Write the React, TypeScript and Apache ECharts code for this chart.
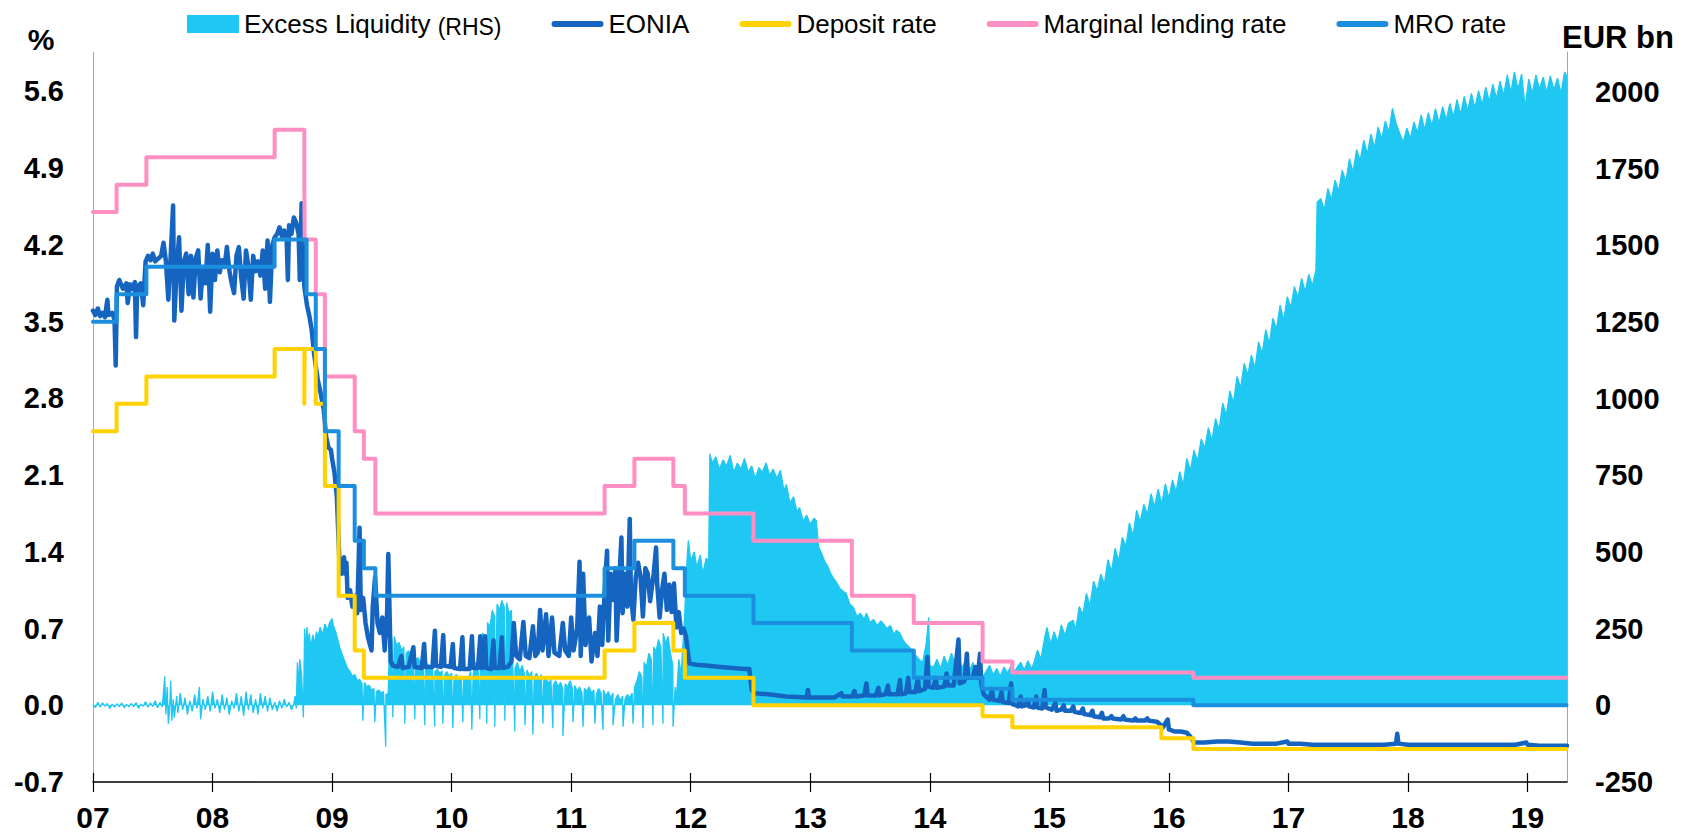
import React, { useEffect, useRef } from 'react';
import * as echarts from 'echarts';

const FONT = "'Liberation Sans', Arial, Helvetica, sans-serif";

// ---------- tick labels ----------
const yearTicks = [2007, 2008, 2009, 2010, 2011, 2012, 2013, 2014, 2015, 2016, 2017, 2018, 2019];
const X_MIN = 2007;
const X_MAX = 2019.33;

// ---------- policy rates (effective dates, %) ----------
const mroDates = ['2007-01-01', '2007-03-14', '2007-06-13', '2008-07-09', '2008-10-15', '2008-11-12', '2008-12-10', '2009-01-21', '2009-03-11', '2009-04-08', '2009-05-13', '2011-04-13', '2011-07-13', '2011-11-09', '2011-12-14', '2012-07-11', '2013-05-08', '2013-11-13', '2014-06-11', '2014-09-10', '2016-03-16', '2019-04-30'];
const mroRates = [3.5, 3.75, 4.0, 4.25, 3.75, 3.25, 2.5, 2.0, 1.5, 1.25, 1.0, 1.25, 1.5, 1.25, 1.0, 0.75, 0.5, 0.25, 0.15, 0.05, 0.0, 0.0];

const depositDates = ['2007-01-01', '2007-03-14', '2007-06-13', '2008-07-09', '2008-10-08', '2008-10-09', '2008-11-12', '2008-12-10', '2009-01-21', '2009-03-11', '2009-04-08', '2011-04-13', '2011-07-13', '2011-11-09', '2011-12-14', '2012-07-11', '2014-06-11', '2014-09-10', '2015-12-09', '2016-03-16', '2019-04-30'];
const depositRates = [2.5, 2.75, 3.0, 3.25, 2.75, 3.25, 2.75, 2.0, 1.0, 0.5, 0.25, 0.5, 0.75, 0.5, 0.25, 0.0, -0.1, -0.2, -0.3, -0.4, -0.4];

const mlfDates = ['2007-01-01', '2007-03-14', '2007-06-13', '2008-07-09', '2008-10-08', '2008-10-09', '2008-11-12', '2008-12-10', '2009-03-11', '2009-04-08', '2009-05-13', '2011-04-13', '2011-07-13', '2011-11-09', '2011-12-14', '2012-07-11', '2013-05-08', '2013-11-13', '2014-06-11', '2014-09-10', '2016-03-16', '2019-04-30'];
const mlfRates = [4.5, 4.75, 5.0, 5.25, 4.75, 4.25, 3.75, 3.0, 2.5, 2.25, 1.75, 2.0, 2.25, 2.0, 1.75, 1.5, 1.0, 0.75, 0.4, 0.3, 0.25, 0.25];

// ---------- EONIA (decimal year, %) ----------
const eonia: [number, number][] = [
  [2007.00, 3.60], [2007.02, 3.56], [2007.04, 3.62], [2007.06, 3.55], [2007.08, 3.58], [2007.10, 3.54], [2007.12, 3.70], [2007.13, 3.56], [2007.16, 3.58], [2007.18, 3.52], [2007.19, 3.10], [2007.20, 3.82], [2007.22, 3.88], [2007.25, 3.80], [2007.28, 3.85], [2007.29, 3.67], [2007.31, 3.84], [2007.33, 3.80], [2007.35, 3.86], [2007.36, 3.36], [2007.37, 3.82], [2007.40, 3.85], [2007.42, 3.65], [2007.44, 4.05], [2007.46, 4.10], [2007.48, 4.06], [2007.50, 4.12], [2007.52, 4.05], [2007.55, 4.08], [2007.57, 4.10], [2007.59, 4.22], [2007.61, 4.05], [2007.63, 3.70], [2007.65, 4.10], [2007.67, 4.56], [2007.68, 3.51], [2007.70, 4.00], [2007.72, 4.27], [2007.74, 3.60], [2007.76, 4.05], [2007.78, 4.12], [2007.80, 3.75], [2007.82, 4.10], [2007.84, 3.72], [2007.86, 4.08], [2007.88, 4.15], [2007.90, 3.71], [2007.92, 4.00], [2007.94, 3.85], [2007.96, 4.20], [2007.98, 3.59],
  [2008.00, 4.12], [2008.02, 3.88], [2008.04, 4.15], [2008.06, 3.95], [2008.08, 4.06], [2008.10, 4.00], [2008.12, 4.18], [2008.14, 3.97], [2008.16, 3.85], [2008.18, 3.76], [2008.20, 4.10], [2008.22, 4.18], [2008.24, 3.90], [2008.26, 3.71], [2008.28, 4.15], [2008.30, 4.00], [2008.32, 3.70], [2008.34, 4.10], [2008.36, 3.96], [2008.38, 4.05], [2008.40, 3.92], [2008.42, 4.15], [2008.44, 3.80], [2008.46, 4.24], [2008.48, 3.68], [2008.50, 4.20], [2008.52, 4.27], [2008.54, 4.30], [2008.56, 4.36], [2008.58, 4.28], [2008.60, 4.33], [2008.62, 4.25], [2008.63, 3.88], [2008.64, 4.38], [2008.66, 4.30], [2008.68, 4.45], [2008.70, 4.40], [2008.72, 4.30], [2008.73, 3.88], [2008.745, 4.58], [2008.76, 3.95], [2008.77, 3.80], [2008.79, 3.65], [2008.81, 3.55], [2008.83, 3.42], [2008.85, 3.20], [2008.88, 2.97], [2008.90, 2.87], [2008.93, 2.70], [2008.95, 2.45], [2008.97, 2.35], [2008.99, 2.33],
  [2009.00, 2.25], [2009.02, 2.12], [2009.04, 1.90], [2009.06, 1.35], [2009.08, 1.20], [2009.09, 1.26], [2009.10, 1.35], [2009.11, 1.20], [2009.12, 1.30], [2009.13, 0.98], [2009.15, 1.05], [2009.17, 0.90], [2009.19, 1.00], [2009.21, 0.84], [2009.23, 1.62], [2009.24, 0.87], [2009.26, 0.98], [2009.28, 0.75], [2009.30, 0.62], [2009.33, 0.50], [2009.34, 0.90], [2009.36, 1.17], [2009.38, 0.75], [2009.40, 0.66], [2009.42, 0.80], [2009.44, 0.50], [2009.46, 0.84], [2009.47, 1.38], [2009.49, 0.40], [2009.51, 0.36],
  [2009.55, 0.35], [2009.58, 0.45], [2009.59, 0.34], [2009.64, 0.35], [2009.68, 0.53], [2009.69, 0.35], [2009.75, 0.34], [2009.77, 0.56], [2009.78, 0.35], [2009.84, 0.35], [2009.86, 0.68], [2009.87, 0.36], [2009.91, 0.35], [2009.93, 0.64], [2009.94, 0.36], [2009.99, 0.35],
  [2010.01, 0.56], [2010.02, 0.34], [2010.07, 0.33], [2010.09, 0.62], [2010.10, 0.33], [2010.15, 0.33], [2010.17, 0.63], [2010.18, 0.34], [2010.22, 0.34], [2010.24, 0.63], [2010.25, 0.34], [2010.27, 0.35], [2010.28, 0.63], [2010.29, 0.34], [2010.33, 0.33], [2010.35, 0.59], [2010.36, 0.34], [2010.40, 0.34], [2010.42, 0.62], [2010.43, 0.34], [2010.47, 0.35], [2010.50, 0.40], [2010.52, 0.75], [2010.54, 0.45], [2010.57, 0.42], [2010.60, 0.76], [2010.62, 0.45], [2010.65, 0.43], [2010.68, 0.72], [2010.70, 0.45], [2010.72, 0.48], [2010.74, 0.87], [2010.76, 0.50], [2010.79, 0.83], [2010.81, 0.45], [2010.84, 0.80], [2010.86, 0.48], [2010.90, 0.45], [2010.93, 0.75], [2010.95, 0.50], [2010.98, 0.45],
  [2011.00, 0.80], [2011.02, 0.50], [2011.05, 0.70], [2011.07, 1.31], [2011.08, 0.45], [2011.10, 1.20], [2011.12, 0.55], [2011.15, 0.80], [2011.17, 0.40], [2011.20, 0.66], [2011.22, 0.45], [2011.24, 0.90], [2011.26, 0.55], [2011.28, 1.05], [2011.30, 1.41], [2011.31, 0.59], [2011.33, 1.20], [2011.35, 0.96], [2011.37, 1.25], [2011.38, 0.59], [2011.40, 1.08], [2011.42, 1.53], [2011.43, 0.84], [2011.45, 1.20], [2011.47, 0.90], [2011.49, 1.70], [2011.50, 1.00], [2011.52, 0.78], [2011.54, 1.17], [2011.56, 1.30], [2011.58, 1.17], [2011.60, 0.81], [2011.62, 1.25], [2011.64, 1.20], [2011.66, 0.95], [2011.69, 1.20], [2011.71, 1.44], [2011.72, 1.10], [2011.74, 0.80], [2011.76, 1.05], [2011.78, 1.20], [2011.80, 0.87], [2011.82, 1.10], [2011.84, 0.85], [2011.86, 1.11], [2011.88, 0.71], [2011.90, 0.85], [2011.92, 0.66], [2011.94, 0.70], [2011.96, 0.63], [2011.98, 0.45], [2011.99, 0.38],
  [2012.05, 0.37], [2012.15, 0.36], [2012.25, 0.35], [2012.35, 0.34], [2012.45, 0.33], [2012.49, 0.33], [2012.51, 0.14], [2012.53, 0.11], [2012.65, 0.10], [2012.80, 0.08], [2012.97, 0.07], [2012.98, 0.14], [2012.99, 0.07],
  [2013.10, 0.07], [2013.20, 0.07], [2013.26, 0.11], [2013.27, 0.08], [2013.35, 0.08], [2013.37, 0.13], [2013.38, 0.08], [2013.45, 0.09], [2013.47, 0.20], [2013.48, 0.09], [2013.55, 0.09], [2013.57, 0.16], [2013.58, 0.09], [2013.63, 0.10], [2013.65, 0.18], [2013.66, 0.10], [2013.73, 0.10], [2013.75, 0.23], [2013.76, 0.10], [2013.80, 0.11], [2013.82, 0.25], [2013.83, 0.12], [2013.88, 0.12], [2013.90, 0.25], [2013.91, 0.13], [2013.96, 0.15], [2013.98, 0.44], [2013.99, 0.17],
  [2014.03, 0.16], [2014.05, 0.25], [2014.06, 0.16], [2014.12, 0.17], [2014.14, 0.29], [2014.15, 0.18], [2014.20, 0.18], [2014.24, 0.60], [2014.25, 0.20], [2014.29, 0.22], [2014.31, 0.47], [2014.32, 0.25], [2014.36, 0.25], [2014.38, 0.35], [2014.40, 0.25], [2014.42, 0.47], [2014.43, 0.20], [2014.45, 0.10], [2014.47, 0.08], [2014.50, 0.05], [2014.52, 0.15], [2014.53, 0.05], [2014.58, 0.04], [2014.60, 0.12], [2014.61, 0.03], [2014.66, 0.02], [2014.68, 0.20], [2014.69, 0.01], [2014.72, 0.00], [2014.74, -0.01], [2014.76, 0.08], [2014.77, -0.01], [2014.80, 0.00], [2014.82, 0.05], [2014.83, -0.01], [2014.87, -0.02], [2014.89, 0.08], [2014.90, -0.02], [2014.94, -0.03], [2014.96, 0.14], [2014.97, -0.02],
  [2015.02, -0.04], [2015.05, 0.02], [2015.06, -0.05], [2015.10, -0.04], [2015.12, 0.00], [2015.13, -0.05], [2015.18, -0.05], [2015.20, -0.01], [2015.21, -0.06], [2015.26, -0.07], [2015.28, -0.03], [2015.29, -0.08], [2015.34, -0.09], [2015.36, -0.05], [2015.37, -0.10], [2015.42, -0.11], [2015.44, -0.07], [2015.45, -0.12], [2015.50, -0.12], [2015.52, -0.10], [2015.53, -0.12], [2015.60, -0.13], [2015.62, -0.10], [2015.63, -0.13], [2015.70, -0.14], [2015.72, -0.12], [2015.73, -0.14], [2015.80, -0.14], [2015.82, -0.12], [2015.83, -0.14], [2015.90, -0.15], [2015.93, -0.18], [2015.95, -0.20], [2015.99, -0.13],
  [2016.00, -0.22], [2016.05, -0.24], [2016.10, -0.24], [2016.15, -0.25], [2016.19, -0.30], [2016.21, -0.34], [2016.30, -0.34], [2016.40, -0.33], [2016.50, -0.33], [2016.60, -0.34], [2016.70, -0.35], [2016.80, -0.35], [2016.90, -0.35], [2016.99, -0.33],
  [2017.00, -0.35], [2017.10, -0.35], [2017.20, -0.36], [2017.30, -0.36], [2017.40, -0.36], [2017.50, -0.36], [2017.60, -0.36], [2017.70, -0.36], [2017.80, -0.36], [2017.90, -0.35], [2017.91, -0.26], [2017.92, -0.35],
  [2018.00, -0.36], [2018.10, -0.36], [2018.20, -0.36], [2018.30, -0.36], [2018.40, -0.36], [2018.50, -0.36], [2018.60, -0.36], [2018.70, -0.36], [2018.80, -0.36], [2018.90, -0.36], [2018.99, -0.34],
  [2019.00, -0.36], [2019.10, -0.37], [2019.20, -0.37], [2019.33, -0.37],
];

// ---------- Excess liquidity (decimal year, EUR bn) ----------
const excessBase: [number, number][] = [
  [2007.00, 5], [2007.02, -8], [2007.04, 10], [2007.06, -5], [2007.08, 8], [2007.10, -3], [2007.12, 6], [2007.14, -10], [2007.16, 4], [2007.18, -6], [2007.20, 5], [2007.22, -4], [2007.24, 8], [2007.26, -8], [2007.28, 3], [2007.30, -5], [2007.32, 6], [2007.34, -4], [2007.36, 9], [2007.38, -10], [2007.40, 4], [2007.42, -3], [2007.44, 12], [2007.46, -6], [2007.48, 8], [2007.50, -4], [2007.52, 15], [2007.54, -8], [2007.56, 10], [2007.58, -5],
  [2007.60, 95], [2007.61, -30], [2007.62, 60], [2007.63, -60], [2007.64, -20], [2007.65, 80], [2007.66, -50], [2007.67, 20], [2007.68, -40], [2007.70, 30], [2007.71, -25], [2007.73, 40], [2007.75, -15], [2007.77, 25], [2007.79, -30], [2007.81, 15], [2007.83, -20], [2007.85, 35], [2007.87, -10], [2007.89, 60], [2007.90, -45], [2007.92, 20], [2007.94, -15], [2007.96, 30], [2007.98, -20],
  [2008.00, 45], [2008.02, -10], [2008.04, 20], [2008.06, -25], [2008.08, 35], [2008.10, -15], [2008.12, 25], [2008.14, -30], [2008.16, 15], [2008.18, -10], [2008.20, 40], [2008.22, -20], [2008.24, 30], [2008.26, -35], [2008.28, 45], [2008.30, -15], [2008.32, 35], [2008.34, -25], [2008.36, 20], [2008.38, -30], [2008.40, 40], [2008.42, -10], [2008.44, 30], [2008.46, -20], [2008.48, 25], [2008.50, -15], [2008.52, 10], [2008.54, -20], [2008.56, 15], [2008.58, -10], [2008.60, 20], [2008.62, -5], [2008.64, 10], [2008.66, -15], [2008.68, 5], [2008.69, 30], [2008.70, -10], [2008.71, 140], [2008.72, 60], [2008.73, 150], [2008.745, 100], [2008.76, -40],
  [2008.77, 250], [2008.78, 180], [2008.79, 255], [2008.80, 200], [2008.81, 235], [2008.82, 190], [2008.84, 230], [2008.85, 200], [2008.87, 240], [2008.88, 220], [2008.90, 255], [2008.92, 230], [2008.94, 265], [2008.96, 245], [2008.98, 270],
  [2009.00, 283], [2009.01, 260], [2009.03, 240], [2009.05, 210], [2009.07, 180], [2009.09, 160], [2009.11, 140], [2009.13, 120], [2009.15, 110], [2009.17, 95], [2009.19, 100], [2009.21, 80], [2009.23, 85], [2009.25, 70], [2009.27, 75], [2009.29, 60], [2009.31, 65], [2009.33, 50], [2009.35, 55], [2009.37, 45], [2009.39, 50], [2009.41, 40], [2009.43, 45], [2009.45, 35], [2009.47, 40],
  [2009.48, 212], [2009.49, 235], [2009.50, 215], [2009.52, 225], [2009.54, 195], [2009.56, 205], [2009.58, 180], [2009.60, 190], [2009.62, 170], [2009.64, 178], [2009.66, 160], [2009.68, 168], [2009.70, 150], [2009.72, 155], [2009.74, 140], [2009.76, 148], [2009.78, 128], [2009.80, 135], [2009.82, 120], [2009.84, 126], [2009.86, 110], [2009.88, 118], [2009.90, 105], [2009.92, 112], [2009.94, 98], [2009.96, 110], [2009.98, 95],
  [2010.00, 105], [2010.02, 92], [2010.04, 100], [2010.06, 88], [2010.08, 96], [2010.10, 85], [2010.12, 95], [2010.14, 90], [2010.16, 110], [2010.18, 100], [2010.20, 140], [2010.22, 130], [2010.24, 200], [2010.26, 235], [2010.28, 225], [2010.30, 270], [2010.32, 255], [2010.34, 310], [2010.36, 290], [2010.38, 330], [2010.40, 310], [2010.42, 342], [2010.44, 320], [2010.46, 335], [2010.48, 300], [2010.50, 310], [2010.51, 147], [2010.53, 120], [2010.55, 140], [2010.57, 110], [2010.59, 130], [2010.61, 100], [2010.63, 115], [2010.65, 95], [2010.67, 110], [2010.69, 90], [2010.71, 105], [2010.73, 85], [2010.75, 100], [2010.77, 80], [2010.79, 90], [2010.81, 70], [2010.83, 85], [2010.85, 65], [2010.87, 80], [2010.89, 60], [2010.91, 75], [2010.93, 55], [2010.95, 70], [2010.97, 60], [2010.99, 80],
  [2011.01, 55], [2011.03, 65], [2011.05, 45], [2011.07, 60], [2011.09, 40], [2011.11, 55], [2011.13, 45], [2011.15, 60], [2011.17, 40], [2011.19, 50], [2011.21, 35], [2011.23, 55], [2011.25, 40], [2011.27, 50], [2011.29, 30], [2011.31, 45], [2011.33, 25], [2011.35, 40], [2011.37, 20], [2011.39, 35], [2011.41, 15], [2011.43, 30], [2011.45, 20], [2011.47, 35], [2011.49, 25], [2011.51, 40], [2011.53, 60], [2011.55, 80], [2011.57, 110], [2011.59, 95], [2011.61, 140], [2011.63, 125], [2011.65, 170], [2011.67, 150], [2011.69, 190], [2011.71, 175], [2011.73, 215], [2011.75, 190], [2011.77, 235], [2011.79, 200], [2011.81, 225], [2011.83, 170], [2011.85, 130], [2011.87, 60], [2011.88, 20], [2011.90, 150], [2011.92, 100], [2011.95, 300], [2011.97, 480], [2011.98, 538],
  [2012.00, 470], [2012.03, 500], [2012.05, 450], [2012.08, 490], [2012.10, 430], [2012.13, 480], [2012.15, 470], [2012.16, 820], [2012.18, 790], [2012.21, 810], [2012.24, 770], [2012.27, 800], [2012.30, 780], [2012.33, 815], [2012.36, 760], [2012.39, 790], [2012.42, 770], [2012.45, 805], [2012.48, 760], [2012.51, 780], [2012.54, 740], [2012.57, 775], [2012.60, 760], [2012.63, 790], [2012.66, 750], [2012.69, 770], [2012.72, 740], [2012.75, 766], [2012.78, 700], [2012.80, 720], [2012.83, 660], [2012.86, 680], [2012.89, 630], [2012.91, 645], [2012.94, 600], [2012.97, 620],
  [2013.00, 590], [2013.03, 610], [2013.05, 603], [2013.07, 515], [2013.09, 500], [2013.12, 470], [2013.15, 450], [2013.17, 430], [2013.19, 417], [2013.22, 400], [2013.25, 380], [2013.28, 370], [2013.30, 365], [2013.33, 330], [2013.36, 320], [2013.39, 290], [2013.42, 300], [2013.45, 280], [2013.47, 300], [2013.50, 270], [2013.53, 280], [2013.56, 260], [2013.59, 275], [2013.61, 267], [2013.64, 250], [2013.67, 260], [2013.70, 230], [2013.72, 245], [2013.75, 235], [2013.78, 210], [2013.80, 200], [2013.83, 189], [2013.86, 170], [2013.89, 160], [2013.91, 150], [2013.94, 140], [2013.97, 200], [2013.99, 287],
  [2014.00, 130], [2014.03, 124], [2014.06, 150], [2014.09, 120], [2014.12, 160], [2014.15, 130], [2014.18, 170], [2014.21, 140], [2014.24, 165], [2014.27, 120], [2014.30, 150], [2014.33, 110], [2014.36, 140], [2014.39, 100], [2014.41, 147], [2014.44, 90], [2014.47, 110], [2014.50, 130], [2014.53, 100], [2014.56, 120], [2014.59, 95], [2014.62, 125], [2014.65, 105], [2014.68, 130], [2014.71, 110], [2014.73, 124], [2014.76, 140], [2014.79, 115], [2014.82, 145], [2014.85, 120], [2014.87, 137], [2014.90, 180], [2014.93, 150], [2014.96, 220], [2014.98, 254],
  [2015.01, 200], [2015.04, 240], [2015.07, 205], [2015.10, 262], [2015.13, 228], [2015.16, 268], [2015.20, 277], [2015.22, 245], [2015.25, 322], [2015.28, 296], [2015.31, 365], [2015.34, 325], [2015.37, 405], [2015.40, 372], [2015.43, 428], [2015.46, 395], [2015.49, 475], [2015.52, 436], [2015.55, 512], [2015.58, 470], [2015.61, 548], [2015.64, 518], [2015.67, 595], [2015.70, 552], [2015.73, 636], [2015.76, 598], [2015.79, 655], [2015.82, 622], [2015.85, 690], [2015.88, 648], [2015.91, 705], [2015.94, 655], [2015.97, 722],
  [2016.00, 675], [2016.03, 735], [2016.06, 695], [2016.09, 762], [2016.12, 718], [2016.15, 805], [2016.18, 765], [2016.21, 832], [2016.24, 795], [2016.27, 868], [2016.30, 838], [2016.33, 905], [2016.36, 862], [2016.39, 935], [2016.42, 898], [2016.45, 985], [2016.48, 945], [2016.51, 1025], [2016.54, 986], [2016.57, 1072], [2016.60, 1035], [2016.63, 1115], [2016.66, 1076], [2016.69, 1142], [2016.72, 1098], [2016.75, 1185], [2016.78, 1146], [2016.81, 1225], [2016.84, 1178], [2016.87, 1262], [2016.90, 1226], [2016.93, 1305], [2016.96, 1255], [2016.99, 1332],
  [2017.02, 1296], [2017.05, 1365], [2017.08, 1328], [2017.11, 1392], [2017.14, 1348], [2017.17, 1405], [2017.20, 1368], [2017.23, 1420], [2017.24, 1640], [2017.27, 1652], [2017.30, 1615], [2017.33, 1685], [2017.36, 1648], [2017.39, 1712], [2017.42, 1676], [2017.45, 1745], [2017.48, 1706], [2017.51, 1782], [2017.54, 1738], [2017.57, 1812], [2017.60, 1776], [2017.63, 1842], [2017.66, 1798], [2017.69, 1862], [2017.72, 1818], [2017.75, 1885], [2017.78, 1846], [2017.81, 1905], [2017.84, 1868], [2017.87, 1946], [2017.90, 1898], [2017.93, 1865], [2017.96, 1836], [2017.99, 1882],
  [2018.02, 1848], [2018.05, 1902], [2018.08, 1866], [2018.11, 1925], [2018.14, 1876], [2018.17, 1932], [2018.20, 1888], [2018.23, 1945], [2018.26, 1898], [2018.29, 1952], [2018.32, 1908], [2018.35, 1962], [2018.38, 1918], [2018.41, 1975], [2018.44, 1926], [2018.47, 1985], [2018.50, 1938], [2018.53, 1995], [2018.56, 1948], [2018.59, 2004], [2018.62, 1958], [2018.65, 2015], [2018.68, 1968], [2018.71, 2025], [2018.74, 1978], [2018.77, 2035], [2018.80, 1988], [2018.83, 2055], [2018.86, 1998], [2018.89, 2065], [2018.92, 2008], [2018.95, 2058], [2018.98, 1950],
  [2019.01, 2042], [2019.04, 1995], [2019.07, 2055], [2019.10, 2008], [2019.13, 2048], [2019.16, 1998], [2019.19, 2052], [2019.22, 2006], [2019.25, 2045], [2019.28, 1996], [2019.31, 2065], [2019.33, 2050],
];

// negative spikes at maintenance-period ends (EUR bn)
const excessDips: [number, number][] = [
  [2009.257, -50], [2009.357, -55], [2009.449, -135], [2009.508, -40], [2009.608, -60], [2009.692, -45], [2009.776, -65], [2009.859, -70], [2009.926, -60],
  [2010.010, -75], [2010.094, -55], [2010.169, -80], [2010.236, -45], [2010.294, -60], [2010.361, -70], [2010.445, -50], [2010.529, -85], [2010.613, -65], [2010.680, -95], [2010.764, -60], [2010.847, -75], [2010.931, -100],
  [2011.015, -55], [2011.099, -70], [2011.199, -60], [2011.266, -80], [2011.350, -65], [2011.434, -70], [2011.517, -60], [2011.601, -75], [2011.684, -65], [2011.768, -60], [2011.852, -70],
];

// ---------- helpers ----------
const yearFrac = (d: string): number => {
  const [y, m, dd] = d.split('-').map(Number);
  const start = Date.UTC(y, 0, 1);
  const end = Date.UTC(y + 1, 0, 1);
  return y + (Date.UTC(y, m - 1, dd) - start) / (end - start);
};
const stepData = (dates: string[], rates: number[]) => dates.map((d, i) => [yearFrac(d), rates[i]]);

const COLORS = {
  excess: '#1FC8F3',
  eonia: '#1565C0',
  deposit: '#FFD200',
  mlf: '#FF8EC2',
  mro: '#1B8FDE',
};

const LINE_ICON = 'path://M3 0H49A3 3 0 0 1 49 6H3A3 3 0 0 1 3 0Z';

export default function App() {
  const ref = useRef<HTMLDivElement>(null);

  useEffect(() => {
    if (!ref.current) return;
    const chart = echarts.init(ref.current, undefined, { renderer: 'svg' });

    const excessData = [...excessBase, ...excessDips].sort((a, b) => a[0] - b[0]);
    const tickLabel = { fontFamily: FONT, fontWeight: 'bold' as const, color: '#000' };

    const option: any = {
      animation: false,
      backgroundColor: '#fff',
      textStyle: { fontFamily: FONT },
      grid: { left: 93, right: 127, top: 52, bottom: 55, containLabel: false },
      legend: {
        left: 182,
        top: 6,
        itemWidth: 52,
        itemHeight: 18,
        itemGap: 50,
        selectedMode: false,
        textStyle: {
          fontFamily: FONT,
          fontSize: 26,
          color: '#000',
          rich: {
            a: { fontFamily: FONT, fontSize: 26, color: '#000' },
            b: { fontFamily: FONT, fontSize: 23, color: '#000', padding: [5, 0, 0, 0] },
          },
        },
        formatter: (name: string) => (name === 'Excess Liquidity' ? '{a|Excess Liquidity} {b|(RHS)}' : name),
        data: [
          { name: 'Excess Liquidity', icon: 'rect', itemStyle: { color: COLORS.excess, borderWidth: 0 } },
          { name: 'EONIA', icon: LINE_ICON, itemStyle: { color: COLORS.eonia, borderWidth: 0 } },
          { name: 'Deposit rate', icon: LINE_ICON, itemStyle: { color: COLORS.deposit, borderWidth: 0 } },
          { name: 'Marginal lending rate', icon: LINE_ICON, itemStyle: { color: COLORS.mlf, borderWidth: 0 } },
          { name: 'MRO rate', icon: LINE_ICON, itemStyle: { color: COLORS.mro, borderWidth: 0 } },
        ],
      },
      graphic: [
        {
          type: 'text', x: 41, y: 39, z: 10,
          style: { text: '%', font: `bold 30px ${FONT}`, fill: '#000', align: 'center', textAlign: 'center', verticalAlign: 'middle', textVerticalAlign: 'middle' },
        },
        {
          type: 'text', x: 1562, y: 37, z: 10,
          style: { text: 'EUR bn', font: `bold 31px ${FONT}`, fill: '#000', align: 'left', textAlign: 'left', verticalAlign: 'middle', textVerticalAlign: 'middle' },
        },
      ],
      xAxis: [
        {
          type: 'value', min: X_MIN, max: X_MAX, interval: 1,
          axisLine: { show: true, onZero: false, lineStyle: { color: '#000', width: 1.5 } },
          axisTick: { show: true, length: 10, customValues: yearTicks, lineStyle: { color: '#000', width: 1.2 } },
          axisLabel: {
            ...tickLabel, fontSize: 30, margin: 20, customValues: yearTicks,
            formatter: (v: number) => String(Math.round(v) % 100).padStart(2, '0'),
          },
          splitLine: { show: false },
        },
        {
          type: 'value', min: X_MIN, max: X_MAX, interval: 1, position: 'bottom',
          axisLine: { show: false, onZero: false },
          axisTick: { show: true, inside: true, length: 9, customValues: yearTicks, lineStyle: { color: '#000', width: 1.2 } },
          axisLabel: { show: false },
          splitLine: { show: false },
        },
      ],
      yAxis: [
        {
          type: 'value', position: 'left', min: -0.7, max: 5.96, interval: 0.7,
          axisLine: { show: true, lineStyle: { color: '#A6A6A6', width: 1 } },
          axisTick: { show: false },
          splitLine: { show: false },
          axisLabel: { ...tickLabel, fontSize: 29, margin: 29, showMaxLabel: false, formatter: (v: number) => v.toFixed(1) },
        },
        {
          type: 'value', position: 'right', min: -250, max: 2130, interval: 250,
          axisLine: { show: true, lineStyle: { color: '#A6A6A6', width: 1 } },
          axisTick: { show: false },
          splitLine: { show: false },
          axisLabel: { ...tickLabel, fontSize: 29, margin: 28, showMaxLabel: false, formatter: (v: number) => String(Math.round(v)) },
        },
      ],
      series: [
        {
          name: 'Excess Liquidity', type: 'line', xAxisIndex: 0, yAxisIndex: 1,
          data: excessData, symbol: 'none', showSymbol: false,
          itemStyle: { color: COLORS.excess },
          lineStyle: { color: COLORS.excess, width: 1.3 },
          areaStyle: { color: COLORS.excess, opacity: 1 },
          z: 1,
        },
        {
          name: 'EONIA', type: 'line', xAxisIndex: 0, yAxisIndex: 0,
          data: eonia, symbol: 'none', showSymbol: false,
          itemStyle: { color: COLORS.eonia },
          lineStyle: { color: COLORS.eonia, width: 4.5, join: 'round', cap: 'round' },
          z: 2,
        },
        {
          name: 'Deposit rate', type: 'line', xAxisIndex: 0, yAxisIndex: 0, step: 'end',
          data: stepData(depositDates, depositRates), symbol: 'none', showSymbol: false,
          itemStyle: { color: COLORS.deposit },
          lineStyle: { color: COLORS.deposit, width: 4, join: 'round', cap: 'round' },
          z: 3,
        },
        {
          name: 'Marginal lending rate', type: 'line', xAxisIndex: 0, yAxisIndex: 0, step: 'end',
          data: stepData(mlfDates, mlfRates), symbol: 'none', showSymbol: false,
          itemStyle: { color: COLORS.mlf },
          lineStyle: { color: COLORS.mlf, width: 4, join: 'round', cap: 'round' },
          z: 3,
        },
        {
          name: 'MRO rate', type: 'line', xAxisIndex: 0, yAxisIndex: 0, step: 'end',
          data: stepData(mroDates, mroRates), symbol: 'none', showSymbol: false,
          itemStyle: { color: COLORS.mro },
          lineStyle: { color: COLORS.mro, width: 4, join: 'round', cap: 'round' },
          z: 4,
        },
      ],
    };

    chart.setOption(option);
    return () => chart.dispose();
  }, []);

  return (
    <div
      ref={ref}
      style={{ position: 'fixed', left: 0, top: 0, width: 1694, height: 837, background: '#fff' }}
    />
  );
}
